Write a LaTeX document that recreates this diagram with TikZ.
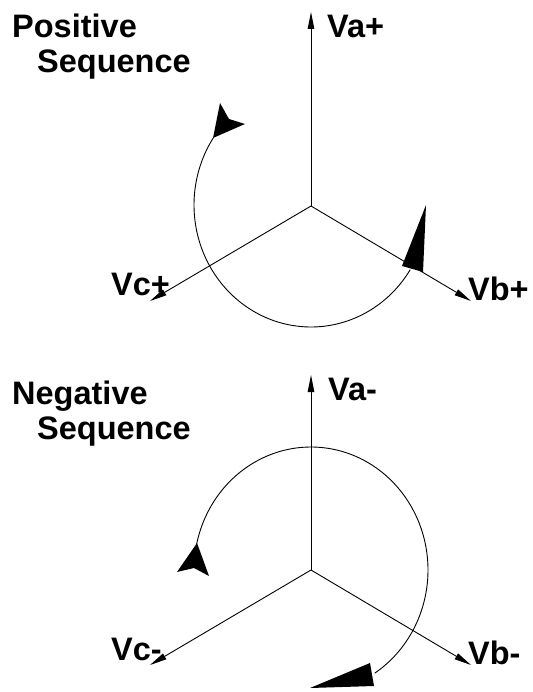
\documentclass[tikz,border=0pt]{standalone}
\usepackage{fontspec}
\setmainfont{Liberation Sans}
\usetikzlibrary{arrows.meta}
\begin{document}
\begin{tikzpicture}[x=1pt,y=-1pt,
  vec/.style={line width=0.9pt,-{Triangle[length=17pt,width=6.5pt]}},
  circarc/.style={line width=0.9pt},
  head/.style={fill=black,draw=none},
  lbl/.style={anchor=base west,inner sep=0pt,font=\fontsize{32.5}{40}\selectfont\bfseries}]
\useasboundingbox (0,0) rectangle (532,692);
% ---------- positive sequence ----------
\coordinate (O1) at (311,206);
\coordinate (A1) at (311,12);
\coordinate (B1) at (471,301);
\coordinate (C1) at (150,301);
\draw[vec] (O1) -- (A1);
\draw[vec] (O1) -- (B1);
\draw[vec] (O1) -- (C1);
\draw[circarc] plot[domain=32:214,samples=120,smooth] ({311+117*cos(\x)},{205+122*sin(\x)});
\fill[head] (220,103) -- (229,119) -- (245,124) -- (213,138) -- cycle;
\fill[head] (426,205) -- (423,272) -- (402,266) -- cycle;
\node[lbl] (p1) at (12,38) {Positive};
\node[lbl] (p2) at (37,73) {Sequence};
\node[lbl] (la1) at (327,38) {Va+};
\node[lbl] (lb1) at (468,300) {Vb+};
\node[lbl] (lc1) at (111,295) {Vc+};
% ---------- negative sequence ----------
\coordinate (O2) at (311,570);
\coordinate (A2) at (311,375);
\coordinate (B2) at (471,665);
\coordinate (C2) at (150,665);
\draw[vec] (O2) -- (A2);
\draw[vec] (O2) -- (B2);
\draw[vec] (O2) -- (C2);
\draw[circarc] plot[domain=192:417,samples=120,smooth] ({311+117*cos(\x)},{570+123*sin(\x)});
\fill[head] (197,543) -- (209,576) -- (194,568) -- (177,572) -- cycle;
\fill[head] (310,688) -- (370,663) -- (374,686) -- cycle;
\node[lbl] (n1) at (12,404) {Negative};
\node[lbl] (n2) at (37,439) {Sequence};
\node[lbl] (la2) at (328,400) {Va-};
\node[lbl] (lb2) at (468,664) {Vb-};
\node[lbl] (lc2) at (111,660) {Vc-};
\end{tikzpicture}
\end{document}
